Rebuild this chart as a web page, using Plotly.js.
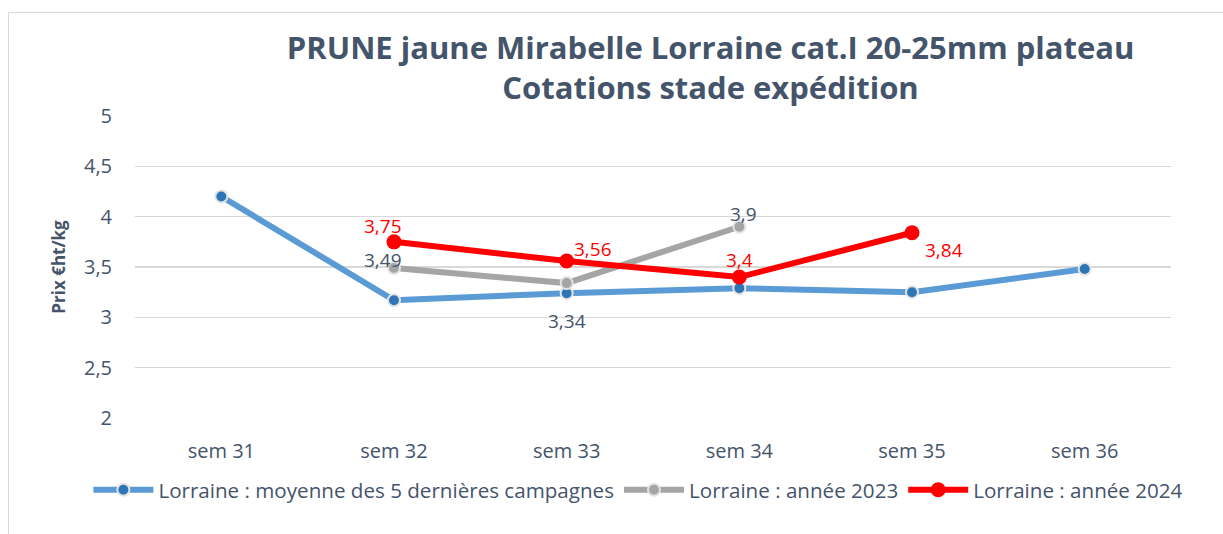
<!DOCTYPE html>
<html>
<head>
<meta charset="utf-8">
<script src="https://cdn.plot.ly/plotly-3.0.1.min.js"></script>
<style>
html,body{margin:0;padding:0;background:#fff;}
#wrap{position:relative;width:1223px;height:534px;overflow:hidden;}
#frame{position:absolute;left:8px;top:12px;width:1300px;height:600px;border:1px solid #d9d9d9;box-sizing:border-box;pointer-events:none;}
#chart{position:absolute;left:0;top:0;width:1223px;height:534px;}
</style>
</head>
<body>
<div id="wrap"><div id="frame"></div><div id="chart"></div></div>
<script>
const weeks = ["sem 31","sem 32","sem 33","sem 34","sem 35","sem 36"];
const avg5 = [4.2, 3.17, 3.24, 3.29, 3.25, 3.48];
const y2023 = [null, 3.49, 3.34, 3.9, null, null];
const y2024 = [null, 3.75, 3.56, 3.4, 3.84, null];
const names = ["Lorraine : moyenne des 5 dernières campagnes","Lorraine : année 2023","Lorraine : année 2024"];
// label offsets in pixels (style only)
const shift2023 = [null, [-11,8], [0,-38], [4,13], null, null];
const shift2024 = [null, [-11,16], [26,12], [0,17], [32,-17], null];
const fmt = v => String(v).replace(".", ",");
const txt = "#44546a";
const traces = [
  {x: weeks, y: avg5, name: names[0], type: "scatter", mode: "lines+markers",
   line: {color: "#5b9bd5", width: 6},
   marker: {color: "#2e75b6", size: 12, line: {color: "#e3e3e3", width: 2}}},
  {x: weeks, y: y2023, name: names[1], type: "scatter", mode: "lines+markers",
   line: {color: "#a5a5a5", width: 6},
   marker: {color: "#a5a5a5", size: 12, line: {color: "#e3e3e3", width: 2}}, connectgaps: false},
  {x: weeks, y: y2024, name: names[2], type: "scatter", mode: "lines+markers",
   line: {color: "#ff0000", width: 6},
   marker: {color: "#ff0000", size: 15}, connectgaps: false}
];
const annotations = [];
function addLabels(vals, shifts, color) {
  vals.forEach((v, i) => {
    if (v == null) return;
    annotations.push({x: weeks[i], y: v, xref: "x", yref: "y", text: fmt(v), showarrow: false,
      xshift: shifts[i][0], yshift: shifts[i][1], font: {family: "Open Sans", size: 19, color: color}});
  });
}
addLabels(y2023, shift2023, txt);
addLabels(y2024, shift2024, "#ff0000");
const layout = {
  width: 1223, height: 534,
  paper_bgcolor: "rgba(0,0,0,0)", plot_bgcolor: "rgba(0,0,0,0)",
  separators: ",.",
  margin: {l: 135, r: 52, t: 116, b: 116, pad: 0, autoexpand: false},
  font: {family: "Open Sans", color: txt},
  title: {text: "<b>PRUNE jaune Mirabelle Lorraine cat.I 20-25mm plateau<br>Cotations stade expédition</b>",
    font: {family: "Open Sans", size: 31, color: txt},
    x: 0.581, xanchor: "center", xref: "container", y: 0.89, yanchor: "top", yref: "container"},
  xaxis: {type: "category", range: [-0.5, 5.5], showgrid: false, zeroline: false, showline: false,
    tickfont: {size: 20, color: txt}, ticks: "", ticklabelstandoff: 19, tickangle: 0},
  yaxis: {range: [2, 5], dtick: 0.5, tick0: 2, showgrid: true, gridcolor: "#d9d9d9", gridwidth: 1.5,
    zeroline: false, showline: false, ticks: "", tickfont: {size: 20, color: txt}, ticklabelstandoff: 22,
    title: {text: "<b>Prix €ht/kg</b>", font: {size: 17, color: txt}, standoff: 14}},
  legend: {orientation: "h", x: -0.045, xanchor: "left", y: -0.238, yanchor: "middle",
    font: {size: 20.6, color: txt}, itemwidth: 60, bgcolor: "rgba(0,0,0,0)"},
  annotations: annotations,
  showlegend: true
};
Plotly.newPlot("chart", traces, layout, {displayModeBar: false, staticPlot: true});
</script>
</body>
</html>
